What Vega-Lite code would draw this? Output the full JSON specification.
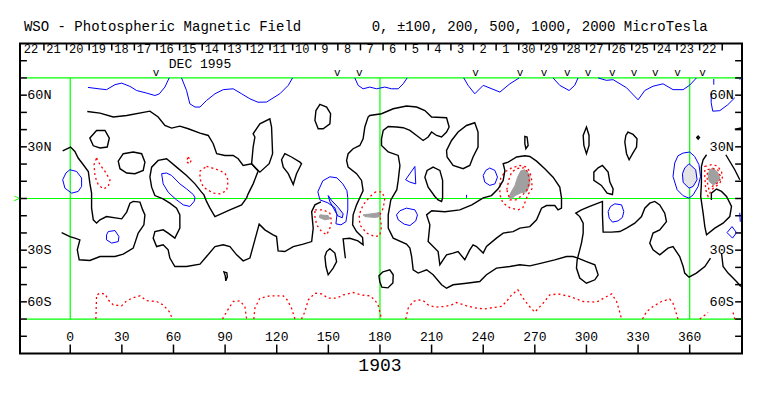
{
"$schema": "https://vega.github.io/schema/vega-lite/v6.json",
"width": 722, "height": 310,
"autosize": {"type": "none"},
"padding": {"left": 20, "top": 43.5, "right": 21, "bottom": 42.5},
"background": "white",
"config": {"view": {"stroke": "black", "strokeWidth": 2}},
"encoding": {
 "x": {"field": "lon", "type": "quantitative", "scale": {"domain": [-29.2, 390.4], "nice": false, "zero": false}, "axis": null},
 "y": {"field": "lat", "type": "quantitative", "scale": {"domain": [-90, 90], "nice": false, "zero": false}, "axis": null}
},
"datasets": {
"green": [
{"lon":-25.3,"lon2":390.4,"lat":70,"lat2":70},
{"lon":-25.3,"lon2":390.4,"lat":0,"lat2":0},
{"lon":-25.3,"lon2":390.4,"lat":-70,"lat2":-70},
{"lon":0,"lon2":0,"lat":-70,"lat2":70},
{"lon":180,"lon2":180,"lat":-70,"lat2":70},
{"lon":360,"lon2":360,"lat":-70,"lat2":70}
],
"ticks": [
{"lon":-29.2,"lon2":-25.2,"lat":80,"lat2":80},{"lon":-29.2,"lon2":-25.2,"lat":70,"lat2":70},{"lon":-29.2,"lon2":-25.2,"lat":60,"lat2":60},{"lon":-29.2,"lon2":-25.2,"lat":50,"lat2":50},{"lon":-29.2,"lon2":-25.2,"lat":40,"lat2":40},{"lon":-29.2,"lon2":-25.2,"lat":30,"lat2":30},{"lon":-29.2,"lon2":-25.2,"lat":20,"lat2":20},{"lon":-29.2,"lon2":-25.2,"lat":10,"lat2":10},{"lon":-29.2,"lon2":-25.2,"lat":0,"lat2":0},{"lon":-29.2,"lon2":-25.2,"lat":-10,"lat2":-10},{"lon":-29.2,"lon2":-25.2,"lat":-20,"lat2":-20},{"lon":-29.2,"lon2":-25.2,"lat":-30,"lat2":-30},{"lon":-29.2,"lon2":-25.2,"lat":-40,"lat2":-40},{"lon":-29.2,"lon2":-25.2,"lat":-50,"lat2":-50},{"lon":-29.2,"lon2":-25.2,"lat":-60,"lat2":-60},{"lon":-29.2,"lon2":-25.2,"lat":-70,"lat2":-70},{"lon":-29.2,"lon2":-25.2,"lat":-80,"lat2":-80},
{"lon":386.4,"lon2":390.4,"lat":80,"lat2":80},{"lon":386.4,"lon2":390.4,"lat":70,"lat2":70},{"lon":386.4,"lon2":390.4,"lat":60,"lat2":60},{"lon":386.4,"lon2":390.4,"lat":50,"lat2":50},{"lon":386.4,"lon2":390.4,"lat":40,"lat2":40},{"lon":386.4,"lon2":390.4,"lat":30,"lat2":30},{"lon":386.4,"lon2":390.4,"lat":20,"lat2":20},{"lon":386.4,"lon2":390.4,"lat":10,"lat2":10},{"lon":386.4,"lon2":390.4,"lat":0,"lat2":0},{"lon":386.4,"lon2":390.4,"lat":-10,"lat2":-10},{"lon":386.4,"lon2":390.4,"lat":-20,"lat2":-20},{"lon":386.4,"lon2":390.4,"lat":-30,"lat2":-30},{"lon":386.4,"lon2":390.4,"lat":-40,"lat2":-40},{"lon":386.4,"lon2":390.4,"lat":-50,"lat2":-50},{"lon":386.4,"lon2":390.4,"lat":-60,"lat2":-60},{"lon":386.4,"lon2":390.4,"lat":-70,"lat2":-70},{"lon":386.4,"lon2":390.4,"lat":-80,"lat2":-80},
{"lon":0,"lon2":0,"lat":-90,"lat2":-84.8},{"lon":30,"lon2":30,"lat":-90,"lat2":-84.8},{"lon":60,"lon2":60,"lat":-90,"lat2":-84.8},{"lon":90,"lon2":90,"lat":-90,"lat2":-84.8},{"lon":120,"lon2":120,"lat":-90,"lat2":-84.8},{"lon":150,"lon2":150,"lat":-90,"lat2":-84.8},{"lon":180,"lon2":180,"lat":-90,"lat2":-84.8},{"lon":210,"lon2":210,"lat":-90,"lat2":-84.8},{"lon":240,"lon2":240,"lat":-90,"lat2":-84.8},{"lon":270,"lon2":270,"lat":-90,"lat2":-84.8},{"lon":300,"lon2":300,"lat":-90,"lat2":-84.8},{"lon":330,"lon2":330,"lat":-90,"lat2":-84.8},{"lon":360,"lon2":360,"lat":-90,"lat2":-84.8},
{"lon":-15.29,"lon2":-15.29,"lat":90,"lat2":86},{"lon":-2.15,"lon2":-2.15,"lat":90,"lat2":86},{"lon":10.99,"lon2":10.99,"lat":90,"lat2":86},{"lon":24.13,"lon2":24.13,"lat":90,"lat2":86},{"lon":37.27,"lon2":37.27,"lat":90,"lat2":86},{"lon":50.41,"lon2":50.41,"lat":90,"lat2":86},{"lon":63.55,"lon2":63.55,"lat":90,"lat2":86},{"lon":76.69,"lon2":76.69,"lat":90,"lat2":86},{"lon":89.83,"lon2":89.83,"lat":90,"lat2":86},{"lon":102.97,"lon2":102.97,"lat":90,"lat2":86},{"lon":116.11,"lon2":116.11,"lat":90,"lat2":86},{"lon":129.25,"lon2":129.25,"lat":90,"lat2":86},{"lon":142.39,"lon2":142.39,"lat":90,"lat2":86},{"lon":155.53,"lon2":155.53,"lat":90,"lat2":86},{"lon":168.67,"lon2":168.67,"lat":90,"lat2":86},{"lon":181.81,"lon2":181.81,"lat":90,"lat2":86},{"lon":194.95,"lon2":194.95,"lat":90,"lat2":86},{"lon":208.09,"lon2":208.09,"lat":90,"lat2":86},{"lon":221.23,"lon2":221.23,"lat":90,"lat2":86},{"lon":234.37,"lon2":234.37,"lat":90,"lat2":86},{"lon":247.51,"lon2":247.51,"lat":90,"lat2":86},{"lon":260.65,"lon2":260.65,"lat":90,"lat2":86},{"lon":273.79,"lon2":273.79,"lat":90,"lat2":86},{"lon":286.93,"lon2":286.93,"lat":90,"lat2":86},{"lon":300.07,"lon2":300.07,"lat":90,"lat2":86},{"lon":313.21,"lon2":313.21,"lat":90,"lat2":86},{"lon":326.35,"lon2":326.35,"lat":90,"lat2":86},{"lon":339.49,"lon2":339.49,"lat":90,"lat2":86},{"lon":352.63,"lon2":352.63,"lat":90,"lat2":86},{"lon":365.77,"lon2":365.77,"lat":90,"lat2":86},{"lon":378.91,"lon2":378.91,"lat":90,"lat2":86}
],
"grayFill": [
{"g":"G1","o":0,"lon":145.1,"lat":-9.5},{"g":"G1","o":1,"lon":149.9,"lat":-9.9},{"g":"G1","o":2,"lon":150.9,"lat":-11.8},{"g":"G1","o":3,"lon":148.0,"lat":-12.4},{"g":"G1","o":4,"lon":144.7,"lat":-11.0},
{"g":"G2","o":0,"lon":170.2,"lat":-9.5},{"g":"G2","o":1,"lon":178.0,"lat":-8.5},{"g":"G2","o":2,"lon":179.9,"lat":-7.9},{"g":"G2","o":3,"lon":180.3,"lat":-10.5},{"g":"G2","o":4,"lon":177.0,"lat":-11.0},{"g":"G2","o":5,"lon":171.2,"lat":-10.5},
{"g":"G3","o":0,"lon":264.2,"lat":16.7},{"g":"G3","o":1,"lon":267.1,"lat":13.8},{"g":"G3","o":2,"lon":267.1,"lat":8.0},{"g":"G3","o":3,"lon":265.3,"lat":3.9},{"g":"G3","o":4,"lon":261.9,"lat":3.3},{"g":"G3","o":5,"lon":258.4,"lat":1.6},{"g":"G3","o":6,"lon":256.6,"lat":-0.2},{"g":"G3","o":7,"lon":254.9,"lat":0.4},{"g":"G3","o":8,"lon":256.0,"lat":3.3},{"g":"G3","o":9,"lon":258.4,"lat":7.4},{"g":"G3","o":10,"lon":260.1,"lat":12.6},{"g":"G3","o":11,"lon":261.9,"lat":16.1},
{"g":"G4","o":0,"lon":373.6,"lat":17.7},{"g":"G4","o":1,"lon":376.5,"lat":14.8},{"g":"G4","o":2,"lon":377.5,"lat":11.9},{"g":"G4","o":3,"lon":375.9,"lat":8.9},{"g":"G4","o":4,"lon":373.6,"lat":8.0},{"g":"G4","o":5,"lon":371.3,"lat":9.9},{"g":"G4","o":6,"lon":370.7,"lat":13.8},{"g":"G4","o":7,"lon":371.7,"lat":16.7}
],
"blueFilled": [
{"g":"F1","o":0,"lon":359.6,"lat":20.2},{"g":"F1","o":1,"lon":363.5,"lat":16.7},{"g":"F1","o":2,"lon":364.3,"lat":10.9},{"g":"F1","o":3,"lon":362.0,"lat":7.0},{"g":"F1","o":4,"lon":359.6,"lat":6.0},{"g":"F1","o":5,"lon":356.2,"lat":9.3},{"g":"F1","o":6,"lon":355.8,"lat":14.4},{"g":"F1","o":7,"lon":357.1,"lat":17.7},
{"g":"F2","o":0,"lon":149.9,"lat":1.7},{"g":"F2","o":1,"lon":152.0,"lat":-1.3},{"g":"F2","o":2,"lon":155.7,"lat":-5.1},{"g":"F2","o":3,"lon":158.6,"lat":-8.9},{"g":"F2","o":4,"lon":158.1,"lat":-11.2},{"g":"F2","o":5,"lon":155.5,"lat":-10.1},{"g":"F2","o":6,"lon":153.2,"lat":-6.0},{"g":"F2","o":7,"lon":150.9,"lat":-1.9}
],
"blueOpen": [
{"g":"BA","o":0,"lon":10.3,"lat":64.5},{"g":"BA","o":1,"lon":17.3,"lat":63.6},{"g":"BA","o":2,"lon":21.1,"lat":63.2},{"g":"BA","o":3,"lon":26.0,"lat":66.1},{"g":"BA","o":4,"lon":29.9,"lat":67.0},{"g":"BA","o":5,"lon":34.7,"lat":65.1},{"g":"BA","o":6,"lon":38.6,"lat":62.7},{"g":"BA","o":7,"lon":44.4,"lat":61.2},{"g":"BA","o":8,"lon":49.2,"lat":59.8},{"g":"BA","o":9,"lon":51.7,"lat":60.7},{"g":"BA","o":10,"lon":55.0,"lat":64.7},{"g":"BA","o":11,"lon":57.5,"lat":70},
{"g":"BB","o":0,"lon":64.7,"lat":70},{"g":"BB","o":1,"lon":67.6,"lat":62.7},{"g":"BB","o":2,"lon":69.5,"lat":55.0},{"g":"BB","o":3,"lon":72.5,"lat":53.1},{"g":"BB","o":4,"lon":75.4,"lat":53.1},{"g":"BB","o":5,"lon":79.2,"lat":56.9},{"g":"BB","o":6,"lon":84.1,"lat":60.8},{"g":"BB","o":7,"lon":88.9,"lat":63.2},{"g":"BB","o":8,"lon":94.7,"lat":63.7},{"g":"BB","o":9,"lon":99.6,"lat":60.8},{"g":"BB","o":10,"lon":104.4,"lat":57.9},{"g":"BB","o":11,"lon":109.1,"lat":55.9},{"g":"BB","o":12,"lon":114.1,"lat":56.0},{"g":"BB","o":13,"lon":121.8,"lat":60.8},{"g":"BB","o":14,"lon":126.7,"lat":65.7},{"g":"BB","o":15,"lon":129.2,"lat":70},
{"g":"BC","o":0,"lon":165.4,"lat":70},{"g":"BC","o":1,"lon":167.3,"lat":65.7},{"g":"BC","o":2,"lon":170.2,"lat":63.7},{"g":"BC","o":3,"lon":174.1,"lat":64.7},{"g":"BC","o":4,"lon":178.0,"lat":63.7},{"g":"BC","o":5,"lon":182.8,"lat":64.7},{"g":"BC","o":6,"lon":186.7,"lat":63.7},{"g":"BC","o":7,"lon":190.6,"lat":63.7},{"g":"BC","o":8,"lon":193.5,"lat":66.6},{"g":"BC","o":9,"lon":195.8,"lat":70},
{"g":"BD","o":0,"lon":228.7,"lat":70},{"g":"BD","o":1,"lon":231.2,"lat":65.7},{"g":"BD","o":2,"lon":235.1,"lat":60.8},{"g":"BD","o":3,"lon":240.0,"lat":65.7},{"g":"BD","o":4,"lon":249.7,"lat":61.8},{"g":"BD","o":5,"lon":255.5,"lat":66.6},{"g":"BD","o":6,"lon":260.9,"lat":70},
{"g":"BE","o":0,"lon":280.6,"lat":70},{"g":"BE","o":1,"lon":284.5,"lat":65.7},{"g":"BE","o":2,"lon":289.9,"lat":62.7},{"g":"BE","o":3,"lon":293.2,"lat":65.7},{"g":"BE","o":4,"lon":295.1,"lat":70},
{"g":"BF","o":0,"lon":306.8,"lat":70},{"g":"BF","o":1,"lon":311.6,"lat":68.6},{"g":"BF","o":2,"lon":315.5,"lat":69.0},{"g":"BF","o":3,"lon":323.3,"lat":64.3},{"g":"BF","o":4,"lon":330.0,"lat":57.3},{"g":"BF","o":5,"lon":333.9,"lat":62.7},{"g":"BF","o":6,"lon":338.7,"lat":65.2},{"g":"BF","o":7,"lon":344.5,"lat":66.6},{"g":"BF","o":8,"lon":350.3,"lat":63.2},{"g":"BF","o":9,"lon":356.2,"lat":63.2},{"g":"BF","o":10,"lon":360.0,"lat":65.8},{"g":"BF","o":11,"lon":363.9,"lat":70},
{"g":"BG1","o":0,"lon":374.0,"lat":69.4},{"g":"BG1","o":1,"lon":374.0,"lat":66.1},
{"g":"BG2","o":0,"lon":372.5,"lat":61.4},{"g":"BG2","o":1,"lon":372.5,"lat":55.6},{"g":"BG2","o":2,"lon":373.4,"lat":50.7},{"g":"BG2","o":3,"lon":377.5,"lat":51.0},{"g":"BG2","o":4,"lon":382.1,"lat":54.4},{"g":"BG2","o":5,"lon":386.2,"lat":58.5},
{"g":"BG3","o":0,"lon":389.1,"lat":69.0},{"g":"BG3","o":1,"lon":389.7,"lat":70},
{"g":"BX","o":0,"lon":230.3,"lat":2.1},{"g":"BX","o":1,"lon":230.3,"lat":0.4},
{"g":"BY","o":0,"lon":389.1,"lat":-8.3},{"g":"BY","o":1,"lon":389.4,"lat":-13.5}
],
"blueClosed": [
{"g":"L1","o":0,"lon":-0.2,"lat":16.7},{"g":"L1","o":1,"lon":3.7,"lat":15.7},{"g":"L1","o":2,"lon":6.6,"lat":11.9},{"g":"L1","o":3,"lon":6.6,"lat":7.0},{"g":"L1","o":4,"lon":4.6,"lat":4.1},{"g":"L1","o":5,"lon":0.8,"lat":3.1},{"g":"L1","o":6,"lon":-3.1,"lat":6.0},{"g":"L1","o":7,"lon":-4.4,"lat":10.9},{"g":"L1","o":8,"lon":-2.5,"lat":14.8},
{"g":"L2","o":0,"lon":22.1,"lat":-19.2},{"g":"L2","o":1,"lon":26.0,"lat":-18.6},{"g":"L2","o":2,"lon":28.3,"lat":-22.1},{"g":"L2","o":3,"lon":27.9,"lat":-25.0},{"g":"L2","o":4,"lon":24.1,"lat":-25.9},{"g":"L2","o":5,"lon":21.1,"lat":-24.0},{"g":"L2","o":6,"lon":21.1,"lat":-21.1},
{"g":"L3","o":0,"lon":53.1,"lat":14.4},{"g":"L3","o":1,"lon":56.0,"lat":14.8},{"g":"L3","o":2,"lon":58.9,"lat":13.4},{"g":"L3","o":3,"lon":63.7,"lat":8.5},{"g":"L3","o":4,"lon":67.6,"lat":5.6},{"g":"L3","o":5,"lon":71.5,"lat":2.3},{"g":"L3","o":6,"lon":72.5,"lat":0.4},{"g":"L3","o":7,"lon":72.0,"lat":-1.7},{"g":"L3","o":8,"lon":69.5,"lat":-4.6},{"g":"L3","o":9,"lon":65.7,"lat":-3.7},{"g":"L3","o":10,"lon":61.8,"lat":-0.8},{"g":"L3","o":11,"lon":59.1,"lat":1.6},{"g":"L3","o":12,"lon":56.9,"lat":3.7},{"g":"L3","o":13,"lon":54.0,"lat":8.5},
{"g":"L4","o":0,"lon":143.9,"lat":3.9},{"g":"L4","o":1,"lon":146.8,"lat":10.3},{"g":"L4","o":2,"lon":150.9,"lat":12.6},{"g":"L4","o":3,"lon":155.0,"lat":12.0},{"g":"L4","o":4,"lon":158.4,"lat":8.5},{"g":"L4","o":5,"lon":160.8,"lat":4.5},{"g":"L4","o":6,"lon":161.3,"lat":0.4},{"g":"L4","o":7,"lon":161.3,"lat":-6.6},{"g":"L4","o":8,"lon":160.2,"lat":-13.5},{"g":"L4","o":9,"lon":157.3,"lat":-15.3},{"g":"L4","o":10,"lon":154.4,"lat":-14.7},{"g":"L4","o":11,"lon":155.0,"lat":-9.5},{"g":"L4","o":12,"lon":153.8,"lat":-5.4},{"g":"L4","o":13,"lon":149.7,"lat":-2.5},{"g":"L4","o":14,"lon":145.1,"lat":-0.8},
{"g":"L5","o":0,"lon":200.3,"lat":18.6},{"g":"L5","o":1,"lon":200.8,"lat":8.5},{"g":"L5","o":2,"lon":197.4,"lat":9.5},{"g":"L5","o":3,"lon":194.9,"lat":10.9},{"g":"L5","o":4,"lon":198.4,"lat":15.9},
{"g":"L6","o":0,"lon":195.4,"lat":-5.6},{"g":"L6","o":1,"lon":200.3,"lat":-6.6},{"g":"L6","o":2,"lon":201.8,"lat":-9.5},{"g":"L6","o":3,"lon":200.8,"lat":-13.0},{"g":"L6","o":4,"lon":197.4,"lat":-15.7},{"g":"L6","o":5,"lon":194.1,"lat":-14.9},{"g":"L6","o":6,"lon":190.6,"lat":-12.4},{"g":"L6","o":7,"lon":189.6,"lat":-9.5},{"g":"L6","o":8,"lon":191.6,"lat":-7.1},
{"g":"L7","o":0,"lon":243.8,"lat":17.7},{"g":"L7","o":1,"lon":246.8,"lat":16.3},{"g":"L7","o":2,"lon":248.3,"lat":12.4},{"g":"L7","o":3,"lon":246.8,"lat":8.5},{"g":"L7","o":4,"lon":243.8,"lat":7.6},{"g":"L7","o":5,"lon":240.9,"lat":9.5},{"g":"L7","o":6,"lon":240.0,"lat":13.4},{"g":"L7","o":7,"lon":241.5,"lat":16.3},
{"g":"L9","o":0,"lon":316.5,"lat":-3.1},{"g":"L9","o":1,"lon":320.4,"lat":-3.7},{"g":"L9","o":2,"lon":321.7,"lat":-7.6},{"g":"L9","o":3,"lon":320.9,"lat":-11.0},{"g":"L9","o":4,"lon":318.4,"lat":-13.0},{"g":"L9","o":5,"lon":315.1,"lat":-13.7},{"g":"L9","o":6,"lon":313.2,"lat":-11.4},{"g":"L9","o":7,"lon":312.6,"lat":-7.6},{"g":"L9","o":8,"lon":314.0,"lat":-4.6},
{"g":"L10","o":0,"lon":356.2,"lat":26.4},{"g":"L10","o":1,"lon":360.0,"lat":27.0},{"g":"L10","o":2,"lon":362.9,"lat":24.4},{"g":"L10","o":3,"lon":365.4,"lat":19.6},{"g":"L10","o":4,"lon":366.3,"lat":12.8},{"g":"L10","o":5,"lon":364.9,"lat":7.0},{"g":"L10","o":6,"lon":362.0,"lat":2.1},{"g":"L10","o":7,"lon":359.6,"lat":0.2},{"g":"L10","o":8,"lon":356.2,"lat":1.6},{"g":"L10","o":9,"lon":352.7,"lat":5.1},{"g":"L10","o":10,"lon":350.3,"lat":12.8},{"g":"L10","o":11,"lon":351.3,"lat":20.6},{"g":"L10","o":12,"lon":353.2,"lat":24.8},
{"g":"L11","o":0,"lon":384.6,"lat":-16.3},{"g":"L11","o":1,"lon":387.2,"lat":-19.8},{"g":"L11","o":2,"lon":384.9,"lat":-23.0},{"g":"L11","o":3,"lon":381.7,"lat":-19.8}
],
"redOpen": [
{"g":"R1","o":0,"lon":14.9,"lat":-70},{"g":"R1","o":1,"lon":15.3,"lat":-56.0},{"g":"R1","o":2,"lon":17.3,"lat":-55.0},{"g":"R1","o":3,"lon":20.2,"lat":-55.4},{"g":"R1","o":4,"lon":22.1,"lat":-58.9},{"g":"R1","o":5,"lon":25.0,"lat":-61.8},{"g":"R1","o":6,"lon":29.9,"lat":-62.3},{"g":"R1","o":7,"lon":32.4,"lat":-59.8},{"g":"R1","o":8,"lon":35.7,"lat":-57.9},{"g":"R1","o":9,"lon":40.5,"lat":-56.5},{"g":"R1","o":10,"lon":44.4,"lat":-59.3},{"g":"R1","o":11,"lon":50.2,"lat":-59.8},{"g":"R1","o":12,"lon":54.0,"lat":-61.8},{"g":"R1","o":13,"lon":57.5,"lat":-65.7},{"g":"R1","o":14,"lon":59.5,"lat":-70},
{"g":"R2","o":0,"lon":88.5,"lat":-70},{"g":"R2","o":1,"lon":90.9,"lat":-65.7},{"g":"R2","o":2,"lon":94.7,"lat":-59.8},{"g":"R2","o":3,"lon":98.6,"lat":-59.4},{"g":"R2","o":4,"lon":101.5,"lat":-62.7},{"g":"R2","o":5,"lon":102.5,"lat":-70},
{"g":"R3","o":0,"lon":106.7,"lat":-70},{"g":"R3","o":1,"lon":107.3,"lat":-63.7},{"g":"R3","o":2,"lon":110.2,"lat":-57.9},{"g":"R3","o":3,"lon":116.0,"lat":-56.5},{"g":"R3","o":4,"lon":123.8,"lat":-56.5},{"g":"R3","o":5,"lon":126.1,"lat":-58.9},{"g":"R3","o":6,"lon":128.6,"lat":-63.7},{"g":"R3","o":7,"lon":130.6,"lat":-70},
{"g":"R4","o":0,"lon":134.4,"lat":-70},{"g":"R4","o":1,"lon":136.4,"lat":-65.7},{"g":"R4","o":2,"lon":138.3,"lat":-58.9},{"g":"R4","o":3,"lon":142.2,"lat":-55.0},{"g":"R4","o":4,"lon":146.1,"lat":-55.4},{"g":"R4","o":5,"lon":149.9,"lat":-57.9},{"g":"R4","o":6,"lon":154.8,"lat":-57.9},{"g":"R4","o":7,"lon":158.6,"lat":-56.0},{"g":"R4","o":8,"lon":164.4,"lat":-54.6},{"g":"R4","o":9,"lon":169.3,"lat":-56.0},{"g":"R4","o":10,"lon":174.1,"lat":-56.5},{"g":"R4","o":11,"lon":177.0,"lat":-58.9},{"g":"R4","o":12,"lon":178.9,"lat":-61.8},{"g":"R4","o":13,"lon":179.9,"lat":-65.7},{"g":"R4","o":14,"lon":180.9,"lat":-70},
{"g":"R5","o":0,"lon":195.0,"lat":-70},{"g":"R5","o":1,"lon":196.4,"lat":-63.7},{"g":"R5","o":2,"lon":199.3,"lat":-59.8},{"g":"R5","o":3,"lon":202.2,"lat":-58.9},{"g":"R5","o":4,"lon":205.1,"lat":-59.3},{"g":"R5","o":5,"lon":208.0,"lat":-61.8},{"g":"R5","o":6,"lon":211.9,"lat":-63.1},{"g":"R5","o":7,"lon":217.7,"lat":-62.7},{"g":"R5","o":8,"lon":221.6,"lat":-61.8},{"g":"R5","o":9,"lon":224.5,"lat":-60.4},{"g":"R5","o":10,"lon":230.3,"lat":-62.3},{"g":"R5","o":11,"lon":236.1,"lat":-63.7},{"g":"R5","o":12,"lon":240.9,"lat":-64.1},{"g":"R5","o":13,"lon":245.8,"lat":-63.3},{"g":"R5","o":14,"lon":250.6,"lat":-62.7},{"g":"R5","o":15,"lon":253.5,"lat":-59.8},{"g":"R5","o":16,"lon":256.5,"lat":-56.0},{"g":"R5","o":17,"lon":260.1,"lat":-53.0},{"g":"R5","o":18,"lon":263.2,"lat":-57.9},{"g":"R5","o":19,"lon":266.1,"lat":-61.8},{"g":"R5","o":20,"lon":270.0,"lat":-66.0},{"g":"R5","o":21,"lon":274.8,"lat":-60.8},{"g":"R5","o":22,"lon":278.7,"lat":-56.0},{"g":"R5","o":23,"lon":283.5,"lat":-55.4},{"g":"R5","o":24,"lon":290.3,"lat":-56.9},{"g":"R5","o":25,"lon":298.1,"lat":-59.8},{"g":"R5","o":26,"lon":305.8,"lat":-60.2},{"g":"R5","o":27,"lon":312.6,"lat":-56.5},{"g":"R5","o":28,"lon":314.7,"lat":-55.4},{"g":"R5","o":29,"lon":317.5,"lat":-59.8},{"g":"R5","o":30,"lon":319.0,"lat":-64.7},{"g":"R5","o":31,"lon":320.4,"lat":-70},
{"g":"R6","o":0,"lon":332.6,"lat":-70},{"g":"R6","o":1,"lon":334.9,"lat":-65.7},{"g":"R6","o":2,"lon":338.7,"lat":-62.7},{"g":"R6","o":3,"lon":343.6,"lat":-59.8},{"g":"R6","o":4,"lon":348.4,"lat":-58.4},{"g":"R6","o":5,"lon":350.3,"lat":-60.8},{"g":"R6","o":6,"lon":351.9,"lat":-65.7},{"g":"R6","o":7,"lon":353.2,"lat":-70},
{"g":"R7a","o":0,"lon":365.9,"lat":-70},{"g":"R7a","o":1,"lon":370.7,"lat":-66.2},
{"g":"R7b","o":0,"lon":385.2,"lat":-66.2},{"g":"R7b","o":1,"lon":386.2,"lat":-70}
],
"redClosed": [
{"g":"Q1","o":0,"lon":15.3,"lat":23.5},{"g":"Q1","o":1,"lon":17.3,"lat":19.6},{"g":"Q1","o":2,"lon":20.2,"lat":15.7},{"g":"Q1","o":3,"lon":23.1,"lat":10.9},{"g":"Q1","o":4,"lon":22.1,"lat":7.0},{"g":"Q1","o":5,"lon":19.2,"lat":5.5},{"g":"Q1","o":6,"lon":16.3,"lat":8.0},{"g":"Q1","o":7,"lon":14.4,"lat":12.8},{"g":"Q1","o":8,"lon":13.8,"lat":19.6},
{"g":"Q2","o":0,"lon":79.2,"lat":18.6},{"g":"Q2","o":1,"lon":84.1,"lat":17.3},{"g":"Q2","o":2,"lon":89.9,"lat":14.8},{"g":"Q2","o":3,"lon":91.8,"lat":10.5},{"g":"Q2","o":4,"lon":90.9,"lat":4.6},{"g":"Q2","o":5,"lon":87.0,"lat":2.7},{"g":"Q2","o":6,"lon":83.1,"lat":3.1},{"g":"Q2","o":7,"lon":77.3,"lat":6.6},{"g":"Q2","o":8,"lon":75.4,"lat":11.4},{"g":"Q2","o":9,"lon":75.4,"lat":15.9},
{"g":"Q2b","o":0,"lon":68.4,"lat":23.9},{"g":"Q2b","o":1,"lon":70.4,"lat":22.5},{"g":"Q2b","o":2,"lon":69.5,"lat":20.1},{"g":"Q2b","o":3,"lon":67.5,"lat":21.3},
{"g":"Q4","o":0,"lon":142.2,"lat":-6.6},{"g":"Q4","o":1,"lon":147.0,"lat":-6.6},{"g":"Q4","o":2,"lon":150.9,"lat":-8.5},{"g":"Q4","o":3,"lon":151.9,"lat":-13.4},{"g":"Q4","o":4,"lon":150.9,"lat":-17.2},{"g":"Q4","o":5,"lon":149.0,"lat":-21.1},{"g":"Q4","o":6,"lon":146.1,"lat":-19.2},{"g":"Q4","o":7,"lon":143.2,"lat":-15.3},{"g":"Q4","o":8,"lon":142.2,"lat":-10.5},
{"g":"Q5","o":0,"lon":177.6,"lat":3.9},{"g":"Q5","o":1,"lon":174.1,"lat":1.0},{"g":"Q5","o":2,"lon":170.2,"lat":-3.7},{"g":"Q5","o":3,"lon":167.9,"lat":-9.5},{"g":"Q5","o":4,"lon":168.3,"lat":-15.3},{"g":"Q5","o":5,"lon":172.2,"lat":-20.1},{"g":"Q5","o":6,"lon":177.0,"lat":-22.1},{"g":"Q5","o":7,"lon":179.9,"lat":-21.5},{"g":"Q5","o":8,"lon":180.9,"lat":-16.3},{"g":"Q5","o":9,"lon":179.9,"lat":-9.5},{"g":"Q5","o":10,"lon":181.9,"lat":-5.6},{"g":"Q5","o":11,"lon":182.8,"lat":0.2},{"g":"Q5","o":12,"lon":181.1,"lat":3.9},
{"g":"Q6","o":0,"lon":249.7,"lat":8.0},{"g":"Q6","o":1,"lon":250.2,"lat":12.0},{"g":"Q6","o":2,"lon":252.7,"lat":15.5},{"g":"Q6","o":3,"lon":256.6,"lat":17.8},{"g":"Q6","o":4,"lon":261.3,"lat":19.2},{"g":"Q6","o":5,"lon":265.4,"lat":18.2},{"g":"Q6","o":6,"lon":267.1,"lat":15.5},{"g":"Q6","o":7,"lon":268.3,"lat":10.3},{"g":"Q6","o":8,"lon":268.3,"lat":5.6},{"g":"Q6","o":9,"lon":265.9,"lat":2.1},{"g":"Q6","o":10,"lon":264.2,"lat":-2.5},{"g":"Q6","o":11,"lon":263.0,"lat":-5.4},{"g":"Q6","o":12,"lon":260.1,"lat":-6.6},{"g":"Q6","o":13,"lon":255.5,"lat":-5.4},{"g":"Q6","o":14,"lon":251.4,"lat":-2.5},{"g":"Q6","o":15,"lon":249.7,"lat":2.1},
{"g":"Q6i","o":0,"lon":253.7,"lat":5.1},{"g":"Q6i","o":1,"lon":254.9,"lat":10.9},{"g":"Q6i","o":2,"lon":256.6,"lat":15.5},{"g":"Q6i","o":3,"lon":260.1,"lat":17.5},{"g":"Q6i","o":4,"lon":263.6,"lat":17.8},{"g":"Q6i","o":5,"lon":265.9,"lat":15.5},{"g":"Q6i","o":6,"lon":266.8,"lat":10.3},{"g":"Q6i","o":7,"lon":265.9,"lat":5.6},{"g":"Q6i","o":8,"lon":263.0,"lat":2.1},{"g":"Q6i","o":9,"lon":259.0,"lat":-0.8},{"g":"Q6i","o":10,"lon":255.5,"lat":-0.8},
{"g":"Q7","o":0,"lon":368.8,"lat":18.6},{"g":"Q7","o":1,"lon":372.7,"lat":19.6},{"g":"Q7","o":2,"lon":375.9,"lat":19.0},{"g":"Q7","o":3,"lon":378.5,"lat":15.7},{"g":"Q7","o":4,"lon":379.0,"lat":11.9},{"g":"Q7","o":5,"lon":377.5,"lat":8.9},{"g":"Q7","o":6,"lon":375.2,"lat":7.0},{"g":"Q7","o":7,"lon":372.7,"lat":5.1},{"g":"Q7","o":8,"lon":370.7,"lat":1.2},{"g":"Q7","o":9,"lon":369.3,"lat":5.1},{"g":"Q7","o":10,"lon":368.8,"lat":12.8},
{"g":"Q7i","o":0,"lon":370.5,"lat":16.7},{"g":"Q7i","o":1,"lon":373.4,"lat":17.5},{"g":"Q7i","o":2,"lon":376.3,"lat":16.7},{"g":"Q7i","o":3,"lon":377.7,"lat":13.2},{"g":"Q7i","o":4,"lon":377.5,"lat":10.0},{"g":"Q7i","o":5,"lon":375.2,"lat":8.3},{"g":"Q7i","o":6,"lon":372.8,"lat":6.8},{"g":"Q7i","o":7,"lon":371.1,"lat":5.6},{"g":"Q7i","o":8,"lon":370.2,"lat":9.7},{"g":"Q7i","o":9,"lon":370.2,"lat":13.8}
],
"blackOpen": [
{"g":"B1","o":0,"lon":-4.4,"lat":27.7},{"g":"B1","o":1,"lon":0.2,"lat":29.9},{"g":"B1","o":2,"lon":2.7,"lat":27.3},{"g":"B1","o":3,"lon":4.6,"lat":23.5},{"g":"B1","o":4,"lon":7.6,"lat":19.6},{"g":"B1","o":5,"lon":10.5,"lat":15.7},{"g":"B1","o":6,"lon":11.4,"lat":8.9},{"g":"B1","o":7,"lon":12.4,"lat":3.1},{"g":"B1","o":8,"lon":12.4,"lat":-5.6},{"g":"B1","o":9,"lon":13.4,"lat":-12.4},{"g":"B1","o":10,"lon":15.3,"lat":-14.3},{"g":"B1","o":11,"lon":17.3,"lat":-12.4},{"g":"B1","o":12,"lon":21.1,"lat":-10.5},{"g":"B1","o":13,"lon":29.9,"lat":-11.8},{"g":"B1","o":14,"lon":32.8,"lat":-7.9},{"g":"B1","o":15,"lon":34.7,"lat":-2.7},{"g":"B1","o":16,"lon":36.6,"lat":-1.7},{"g":"B1","o":17,"lon":40.5,"lat":-2.1},{"g":"B1","o":18,"lon":42.1,"lat":-6.6},{"g":"B1","o":19,"lon":43.4,"lat":-9.5},{"g":"B1","o":20,"lon":42.8,"lat":-15.3},{"g":"B1","o":21,"lon":39.5,"lat":-20.1},{"g":"B1","o":22,"lon":36.6,"lat":-28.8},{"g":"B1","o":23,"lon":30.8,"lat":-32.3},{"g":"B1","o":24,"lon":26.0,"lat":-33.7},{"g":"B1","o":25,"lon":17.3,"lat":-33.7},{"g":"B1","o":26,"lon":11.4,"lat":-36.0},{"g":"B1","o":27,"lon":5.2,"lat":-35.6},{"g":"B1","o":28,"lon":4.1,"lat":-29.8},{"g":"B1","o":29,"lon":5.6,"lat":-24.0},{"g":"B1","o":30,"lon":2.7,"lat":-23.0},{"g":"B1","o":31,"lon":-0.2,"lat":-22.1},{"g":"B1","o":32,"lon":-5.0,"lat":-19.8},
{"g":"B4","o":0,"lon":9.9,"lat":50.5},{"g":"B4","o":1,"lon":17.3,"lat":49.6},{"g":"B4","o":2,"lon":25.0,"lat":47.3},{"g":"B4","o":3,"lon":32.8,"lat":48.2},{"g":"B4","o":4,"lon":46.3,"lat":50.7},{"g":"B4","o":5,"lon":51.1,"lat":47.3},{"g":"B4","o":6,"lon":55.0,"lat":42.4},{"g":"B4","o":7,"lon":58.9,"lat":40.9},{"g":"B4","o":8,"lon":63.7,"lat":42.0},{"g":"B4","o":9,"lon":68.6,"lat":40.5},{"g":"B4","o":10,"lon":75.4,"lat":38.0},{"g":"B4","o":11,"lon":80.2,"lat":36.6},{"g":"B4","o":12,"lon":83.1,"lat":31.8},{"g":"B4","o":13,"lon":85.1,"lat":26.0},{"g":"B4","o":14,"lon":89.9,"lat":25.0},{"g":"B4","o":15,"lon":94.7,"lat":25.0},{"g":"B4","o":16,"lon":97.6,"lat":23.1},{"g":"B4","o":17,"lon":100.5,"lat":19.2},{"g":"B4","o":18,"lon":105.4,"lat":20.1},{"g":"B4","o":19,"lon":109.2,"lat":15.9},{"g":"B4","o":20,"lon":106.3,"lat":8.5},{"g":"B4","o":21,"lon":103.4,"lat":2.7},{"g":"B4","o":22,"lon":102.5,"lat":0.4},{"g":"B4","o":23,"lon":99.6,"lat":-3.7},{"g":"B4","o":24,"lon":92.8,"lat":-6.6},{"g":"B4","o":25,"lon":84.1,"lat":-10.5},{"g":"B4","o":26,"lon":81.2,"lat":-5.6},{"g":"B4","o":27,"lon":79.2,"lat":-1.7},{"g":"B4","o":28,"lon":77.7,"lat":2.1},{"g":"B4","o":29,"lon":76.3,"lat":3.7},{"g":"B4","o":30,"lon":72.5,"lat":8.5},{"g":"B4","o":31,"lon":67.6,"lat":13.4},{"g":"B4","o":32,"lon":61.8,"lat":18.2},{"g":"B4","o":33,"lon":56.0,"lat":23.1},{"g":"B4","o":34,"lon":51.1,"lat":22.1},{"g":"B4","o":35,"lon":47.3,"lat":18.2},{"g":"B4","o":36,"lon":46.3,"lat":12.6},{"g":"B4","o":37,"lon":47.3,"lat":6.6},{"g":"B4","o":38,"lon":49.2,"lat":1.7},{"g":"B4","o":39,"lon":53.9,"lat":-0.2},{"g":"B4","o":40,"lon":57.9,"lat":-2.7},{"g":"B4","o":41,"lon":61.8,"lat":-5.6},{"g":"B4","o":42,"lon":63.7,"lat":-9.5},{"g":"B4","o":43,"lon":63.7,"lat":-17.2},{"g":"B4","o":44,"lon":60.8,"lat":-23.0},{"g":"B4","o":45,"lon":56.9,"lat":-20.1},{"g":"B4","o":46,"lon":54.0,"lat":-18.2},{"g":"B4","o":47,"lon":49.2,"lat":-19.2},{"g":"B4","o":48,"lon":48.2,"lat":-23.0},{"g":"B4","o":49,"lon":50.2,"lat":-27.9},{"g":"B4","o":50,"lon":54.0,"lat":-26.9},{"g":"B4","o":51,"lon":56.9,"lat":-29.8},{"g":"B4","o":52,"lon":57.9,"lat":-34.6},{"g":"B4","o":53,"lon":60.8,"lat":-39.5},{"g":"B4","o":54,"lon":67.6,"lat":-39.5},{"g":"B4","o":55,"lon":75.4,"lat":-38.1},{"g":"B4","o":56,"lon":79.2,"lat":-33.7},{"g":"B4","o":57,"lon":84.1,"lat":-27.9},{"g":"B4","o":58,"lon":88.9,"lat":-26.9},{"g":"B4","o":59,"lon":92.8,"lat":-27.9},{"g":"B4","o":60,"lon":96.7,"lat":-32.7},{"g":"B4","o":61,"lon":100.5,"lat":-36.2},{"g":"B4","o":62,"lon":104.4,"lat":-34.6},{"g":"B4","o":63,"lon":107.3,"lat":-24.0},{"g":"B4","o":64,"lon":109.8,"lat":-14.9},{"g":"B4","o":65,"lon":113.1,"lat":-18.2},{"g":"B4","o":66,"lon":117.9,"lat":-21.1},{"g":"B4","o":67,"lon":119.9,"lat":-22.1},{"g":"B4","o":68,"lon":120.8,"lat":-30.4},{"g":"B4","o":69,"lon":124.7,"lat":-30.8},{"g":"B4","o":70,"lon":129.6,"lat":-27.9},{"g":"B4","o":71,"lon":135.4,"lat":-26.5},{"g":"B4","o":72,"lon":140.3,"lat":-25.0},{"g":"B4","o":73,"lon":141.2,"lat":-17.2},{"g":"B4","o":74,"lon":140.3,"lat":-7.6},{"g":"B4","o":75,"lon":142.2,"lat":-3.7},{"g":"B4","o":76,"lon":145.7,"lat":-1.9},
{"g":"B7","o":0,"lon":159.9,"lat":-34.7},{"g":"B7","o":1,"lon":159.3,"lat":-29.8},{"g":"B7","o":2,"lon":158.6,"lat":-23.4},{"g":"B7","o":3,"lon":162.5,"lat":-23.1},{"g":"B7","o":4,"lon":167.2,"lat":-24.6},{"g":"B7","o":5,"lon":170.2,"lat":-26.9},{"g":"B7","o":6,"lon":169.9,"lat":-22.7},{"g":"B7","o":7,"lon":166.4,"lat":-19.2},{"g":"B7","o":8,"lon":164.1,"lat":-15.3},{"g":"B7","o":9,"lon":164.4,"lat":-9.5},{"g":"B7","o":10,"lon":166.4,"lat":-3.7},{"g":"B7","o":11,"lon":168.3,"lat":0.4},{"g":"B7","o":12,"lon":170.2,"lat":4.6},{"g":"B7","o":13,"lon":169.3,"lat":10.5},{"g":"B7","o":14,"lon":166.4,"lat":14.4},{"g":"B7","o":15,"lon":161.5,"lat":18.2},{"g":"B7","o":16,"lon":160.6,"lat":22.1},{"g":"B7","o":17,"lon":161.5,"lat":26.0},{"g":"B7","o":18,"lon":164.4,"lat":28.9},{"g":"B7","o":19,"lon":168.3,"lat":30.8},{"g":"B7","o":20,"lon":170.2,"lat":34.7},{"g":"B7","o":21,"lon":171.2,"lat":41.5},{"g":"B7","o":22,"lon":173.1,"lat":47.3},{"g":"B7","o":23,"lon":174.1,"lat":48.2},{"g":"B7","o":24,"lon":180.9,"lat":49.2},{"g":"B7","o":25,"lon":187.7,"lat":52.1},{"g":"B7","o":26,"lon":195.4,"lat":53.7},{"g":"B7","o":27,"lon":201.3,"lat":53.1},{"g":"B7","o":28,"lon":206.1,"lat":51.1},{"g":"B7","o":29,"lon":210.0,"lat":47.3},{"g":"B7","o":30,"lon":218.7,"lat":46.9},{"g":"B7","o":31,"lon":220.2,"lat":41.5},{"g":"B7","o":32,"lon":218.7,"lat":38.6},{"g":"B7","o":33,"lon":215.8,"lat":35.7},{"g":"B7","o":34,"lon":212.9,"lat":36.6},{"g":"B7","o":35,"lon":210.0,"lat":38.6},{"g":"B7","o":36,"lon":208.0,"lat":35.7},{"g":"B7","o":37,"lon":205.1,"lat":33.7},{"g":"B7","o":38,"lon":201.3,"lat":36.6},{"g":"B7","o":39,"lon":197.4,"lat":39.5},{"g":"B7","o":40,"lon":193.5,"lat":41.1},{"g":"B7","o":41,"lon":189.6,"lat":41.5},{"g":"B7","o":42,"lon":184.8,"lat":41.8},{"g":"B7","o":43,"lon":181.9,"lat":39.5},{"g":"B7","o":44,"lon":180.9,"lat":34.7},{"g":"B7","o":45,"lon":180.9,"lat":30.8},{"g":"B7","o":46,"lon":184.8,"lat":27.0},{"g":"B7","o":47,"lon":190.6,"lat":25.0},{"g":"B7","o":48,"lon":191.6,"lat":19.2},{"g":"B7","o":49,"lon":190.6,"lat":10.5},{"g":"B7","o":50,"lon":189.8,"lat":5.1},{"g":"B7","o":51,"lon":186.3,"lat":-0.8},{"g":"B7","o":52,"lon":184.8,"lat":-9.5},{"g":"B7","o":53,"lon":184.8,"lat":-17.2},{"g":"B7","o":54,"lon":187.7,"lat":-23.0},{"g":"B7","o":55,"lon":195.4,"lat":-26.5},{"g":"B7","o":56,"lon":197.4,"lat":-28.8},{"g":"B7","o":57,"lon":198.4,"lat":-33.7},{"g":"B7","o":58,"lon":199.3,"lat":-41.4},{"g":"B7","o":59,"lon":202.2,"lat":-43.3},{"g":"B7","o":60,"lon":207.1,"lat":-41.4},{"g":"B7","o":61,"lon":210.9,"lat":-44.3},{"g":"B7","o":62,"lon":215.8,"lat":-50.1},{"g":"B7","o":63,"lon":218.7,"lat":-52.1},{"g":"B7","o":64,"lon":222.5,"lat":-50.1},{"g":"B7","o":65,"lon":230.3,"lat":-49.2},{"g":"B7","o":66,"lon":238.0,"lat":-48.2},{"g":"B7","o":67,"lon":241.9,"lat":-44.3},{"g":"B7","o":68,"lon":247.7,"lat":-40.4},{"g":"B7","o":69,"lon":255.5,"lat":-39.5},{"g":"B7","o":70,"lon":261.3,"lat":-38.5},{"g":"B7","o":71,"lon":267.1,"lat":-39.1},{"g":"B7","o":72,"lon":273.9,"lat":-37.5},{"g":"B7","o":73,"lon":281.6,"lat":-35.6},{"g":"B7","o":74,"lon":288.4,"lat":-33.7},{"g":"B7","o":75,"lon":292.2,"lat":-33.7},{"g":"B7","o":76,"lon":295.1,"lat":-34.6},{"g":"B7","o":77,"lon":300.0,"lat":-36.6},{"g":"B7","o":78,"lon":304.9,"lat":-38.5},{"g":"B7","o":79,"lon":306.8,"lat":-44.3},{"g":"B7","o":80,"lon":304.9,"lat":-47.2},{"g":"B7","o":81,"lon":300.0,"lat":-49.2},{"g":"B7","o":82,"lon":296.1,"lat":-46.2},{"g":"B7","o":83,"lon":294.2,"lat":-40.4},{"g":"B7","o":84,"lon":294.6,"lat":-35.6},{"g":"B7","o":85,"lon":296.1,"lat":-29.8},{"g":"B7","o":86,"lon":297.1,"lat":-25.9},{"g":"B7","o":87,"lon":298.1,"lat":-20.1},{"g":"B7","o":88,"lon":298.1,"lat":-14.3},{"g":"B7","o":89,"lon":296.1,"lat":-10.5},{"g":"B7","o":90,"lon":293.8,"lat":-8.5},{"g":"B7","o":91,"lon":297.1,"lat":-6.6},{"g":"B7","o":92,"lon":301.9,"lat":-4.6},{"g":"B7","o":93,"lon":306.8,"lat":-2.7},{"g":"B7","o":94,"lon":309.3,"lat":-1.7},{"g":"B7","o":95,"lon":309.3,"lat":-9.5},{"g":"B7","o":96,"lon":309.7,"lat":-19.5},{"g":"B7","o":97,"lon":314.6,"lat":-19.5},{"g":"B7","o":98,"lon":319.4,"lat":-19.2},{"g":"B7","o":99,"lon":323.3,"lat":-17.2},{"g":"B7","o":100,"lon":328.1,"lat":-14.3},{"g":"B7","o":101,"lon":332.0,"lat":-10.5},{"g":"B7","o":102,"lon":333.9,"lat":-5.6},{"g":"B7","o":103,"lon":336.8,"lat":-2.7},{"g":"B7","o":104,"lon":339.7,"lat":-1.7},{"g":"B7","o":105,"lon":342.6,"lat":-3.7},{"g":"B7","o":106,"lon":345.5,"lat":-8.5},{"g":"B7","o":107,"lon":346.5,"lat":-13.4},{"g":"B7","o":108,"lon":342.6,"lat":-18.2},{"g":"B7","o":109,"lon":338.7,"lat":-20.1},{"g":"B7","o":110,"lon":336.8,"lat":-25.9},{"g":"B7","o":111,"lon":338.7,"lat":-29.8},{"g":"B7","o":112,"lon":342.6,"lat":-32.7},{"g":"B7","o":113,"lon":347.4,"lat":-28.8},{"g":"B7","o":114,"lon":350.3,"lat":-27.9},{"g":"B7","o":115,"lon":354.2,"lat":-33.7},{"g":"B7","o":116,"lon":356.2,"lat":-39.5},{"g":"B7","o":117,"lon":357.1,"lat":-43.3},{"g":"B7","o":118,"lon":359.6,"lat":-45.7},{"g":"B7","o":119,"lon":363.9,"lat":-43.3},{"g":"B7","o":120,"lon":368.8,"lat":-39.5},{"g":"B7","o":121,"lon":372.1,"lat":-34.6},
{"g":"B22","o":0,"lon":381.0,"lat":25.4},{"g":"B22","o":1,"lon":386.2,"lat":16.7},{"g":"B22","o":2,"lon":389.1,"lat":10.9},
{"g":"B22b","o":0,"lon":386.2,"lat":40.3},{"g":"B22b","o":1,"lon":390.1,"lat":40.9},
{"g":"B23","o":0,"lon":369.8,"lat":25.4},{"g":"B23","o":1,"lon":367.8,"lat":22.5},{"g":"B23","o":2,"lon":366.8,"lat":18.6},{"g":"B23","o":3,"lon":366.8,"lat":8.9},{"g":"B23","o":4,"lon":366.4,"lat":1.2},{"g":"B23","o":5,"lon":367.8,"lat":-8.5},{"g":"B23","o":6,"lon":368.8,"lat":-16.3},{"g":"B23","o":7,"lon":369.8,"lat":-21.1},{"g":"B23","o":8,"lon":374.6,"lat":-17.2},{"g":"B23","o":9,"lon":379.4,"lat":-14.3},{"g":"B23","o":10,"lon":383.3,"lat":-10.5},{"g":"B23","o":11,"lon":384.3,"lat":-4.6},{"g":"B23","o":12,"lon":381.4,"lat":1.2},{"g":"B23","o":13,"lon":378.5,"lat":4.1},{"g":"B23","o":14,"lon":375.6,"lat":5.5},{"g":"B23","o":15,"lon":372.6,"lat":3.1},{"g":"B23","o":16,"lon":372.6,"lat":-0.8},
{"g":"B24","o":0,"lon":378.5,"lat":-31.7},{"g":"B24","o":1,"lon":379.4,"lat":-39.5},{"g":"B24","o":2,"lon":382.3,"lat":-43.3},{"g":"B24","o":3,"lon":387.2,"lat":-48.2},{"g":"B24","o":4,"lon":389.7,"lat":-51.1}
],
"blackClosed": [
{"g":"B2","o":0,"lon":30.8,"lat":26.0},{"g":"B2","o":1,"lon":36.6,"lat":27.0},{"g":"B2","o":2,"lon":41.5,"lat":26.0},{"g":"B2","o":3,"lon":43.4,"lat":21.1},{"g":"B2","o":4,"lon":42.4,"lat":16.3},{"g":"B2","o":5,"lon":37.6,"lat":14.4},{"g":"B2","o":6,"lon":32.8,"lat":14.8},{"g":"B2","o":7,"lon":28.9,"lat":17.3},{"g":"B2","o":8,"lon":27.9,"lat":21.7},
{"g":"B3","o":0,"lon":11.4,"lat":35.1},{"g":"B3","o":1,"lon":15.3,"lat":39.5},{"g":"B3","o":2,"lon":20.2,"lat":39.5},{"g":"B3","o":3,"lon":22.7,"lat":35.1},{"g":"B3","o":4,"lon":21.5,"lat":29.9},{"g":"B3","o":5,"lon":17.3,"lat":29.3},{"g":"B3","o":6,"lon":13.4,"lat":30.6},
{"g":"K4","o":0,"lon":106.3,"lat":37.6},{"g":"K4","o":1,"lon":110.2,"lat":43.4},{"g":"K4","o":2,"lon":116.0,"lat":46.3},{"g":"K4","o":3,"lon":117.0,"lat":41.5},{"g":"K4","o":4,"lon":117.6,"lat":26.0},{"g":"K4","o":5,"lon":115.6,"lat":20.2},{"g":"K4","o":6,"lon":110.2,"lat":15.3},{"g":"K4","o":7,"lon":105.4,"lat":20.2},{"g":"K4","o":8,"lon":106.3,"lat":29.9},{"g":"K4","o":9,"lon":107.3,"lat":35.7},
{"g":"B6","o":0,"lon":145.1,"lat":54.6},{"g":"B6","o":1,"lon":149.0,"lat":53.1},{"g":"B6","o":2,"lon":151.3,"lat":49.2},{"g":"B6","o":3,"lon":150.9,"lat":43.4},{"g":"B6","o":4,"lon":147.0,"lat":40.5},{"g":"B6","o":5,"lon":144.1,"lat":40.5},{"g":"B6","o":6,"lon":142.2,"lat":45.3},{"g":"B6","o":7,"lon":142.8,"lat":51.1},
{"g":"B8","o":0,"lon":210.9,"lat":18.2},{"g":"B8","o":1,"lon":214.8,"lat":16.3},{"g":"B8","o":2,"lon":216.4,"lat":10.5},{"g":"B8","o":3,"lon":216.4,"lat":0.4},{"g":"B8","o":4,"lon":215.8,"lat":-1.7},{"g":"B8","o":5,"lon":213.8,"lat":-0.8},{"g":"B8","o":6,"lon":211.9,"lat":1.2},{"g":"B8","o":7,"lon":208.0,"lat":6.6},{"g":"B8","o":8,"lon":206.1,"lat":12.4},{"g":"B8","o":9,"lon":207.4,"lat":16.3},
{"g":"B9","o":0,"lon":235.1,"lat":44.0},{"g":"B9","o":1,"lon":237.0,"lat":38.6},{"g":"B9","o":2,"lon":237.0,"lat":29.9},{"g":"B9","o":3,"lon":234.1,"lat":24.1},{"g":"B9","o":4,"lon":232.2,"lat":19.2},{"g":"B9","o":5,"lon":228.3,"lat":17.3},{"g":"B9","o":6,"lon":222.5,"lat":19.2},{"g":"B9","o":7,"lon":219.0,"lat":24.1},{"g":"B9","o":8,"lon":218.7,"lat":27.9},{"g":"B9","o":9,"lon":221.6,"lat":33.7},{"g":"B9","o":10,"lon":225.4,"lat":38.6},{"g":"B9","o":11,"lon":230.3,"lat":42.4},
{"g":"B10","o":0,"lon":251.6,"lat":20.2},{"g":"B10","o":1,"lon":254.5,"lat":21.1},{"g":"B10","o":2,"lon":259.4,"lat":24.1},{"g":"B10","o":3,"lon":264.2,"lat":24.8},{"g":"B10","o":4,"lon":267.1,"lat":24.4},{"g":"B10","o":5,"lon":271.0,"lat":21.7},{"g":"B10","o":6,"lon":275.8,"lat":17.3},{"g":"B10","o":7,"lon":280.6,"lat":12.4},{"g":"B10","o":8,"lon":284.5,"lat":6.6},{"g":"B10","o":9,"lon":285.5,"lat":0.4},{"g":"B10","o":10,"lon":285.5,"lat":-5.6},{"g":"B10","o":11,"lon":283.5,"lat":-6.6},{"g":"B10","o":12,"lon":281.6,"lat":-4.1},{"g":"B10","o":13,"lon":276.8,"lat":-4.1},{"g":"B10","o":14,"lon":273.9,"lat":-5.6},{"g":"B10","o":15,"lon":271.0,"lat":-12.4},{"g":"B10","o":16,"lon":267.1,"lat":-16.3},{"g":"B10","o":17,"lon":261.3,"lat":-17.2},{"g":"B10","o":18,"lon":257.4,"lat":-19.2},{"g":"B10","o":19,"lon":251.6,"lat":-20.1},{"g":"B10","o":20,"lon":247.7,"lat":-23.0},{"g":"B10","o":21,"lon":241.9,"lat":-27.9},{"g":"B10","o":22,"lon":240.0,"lat":-31.7},{"g":"B10","o":23,"lon":236.1,"lat":-27.9},{"g":"B10","o":24,"lon":234.1,"lat":-26.9},{"g":"B10","o":25,"lon":232.2,"lat":-29.8},{"g":"B10","o":26,"lon":229.3,"lat":-35.6},{"g":"B10","o":27,"lon":225.4,"lat":-30.8},{"g":"B10","o":28,"lon":222.5,"lat":-31.7},{"g":"B10","o":29,"lon":218.7,"lat":-32.7},{"g":"B10","o":30,"lon":216.7,"lat":-35.6},{"g":"B10","o":31,"lon":214.8,"lat":-38.5},{"g":"B10","o":32,"lon":213.8,"lat":-30.8},{"g":"B10","o":33,"lon":208.0,"lat":-25.0},{"g":"B10","o":34,"lon":209.0,"lat":-15.3},{"g":"B10","o":35,"lon":207.1,"lat":-9.5},{"g":"B10","o":36,"lon":210.1,"lat":-7.1},{"g":"B10","o":37,"lon":217.7,"lat":-7.7},{"g":"B10","o":38,"lon":226.4,"lat":-6.6},{"g":"B10","o":39,"lon":233.4,"lat":-3.7},{"g":"B10","o":40,"lon":240.0,"lat":0.4},{"g":"B10","o":41,"lon":244.8,"lat":1.7},{"g":"B10","o":42,"lon":248.7,"lat":5.6},{"g":"B10","o":43,"lon":251.6,"lat":10.5},{"g":"B10","o":44,"lon":252.6,"lat":16.3},
{"g":"B12","o":0,"lon":264.2,"lat":36.0},{"g":"B12","o":1,"lon":265.5,"lat":35.7},{"g":"B12","o":2,"lon":266.1,"lat":30.8},{"g":"B12","o":3,"lon":264.8,"lat":28.9},{"g":"B12","o":4,"lon":264.2,"lat":31.8},
{"g":"B13","o":0,"lon":300.0,"lat":41.5},{"g":"B13","o":1,"lon":301.5,"lat":36.6},{"g":"B13","o":2,"lon":301.5,"lat":30.8},{"g":"B13","o":3,"lon":300.0,"lat":26.0},{"g":"B13","o":4,"lon":298.5,"lat":30.8},{"g":"B13","o":5,"lon":298.1,"lat":36.6},
{"g":"B14","o":0,"lon":324.2,"lat":38.6},{"g":"B14","o":1,"lon":327.1,"lat":37.2},{"g":"B14","o":2,"lon":329.4,"lat":34.7},{"g":"B14","o":3,"lon":329.1,"lat":29.9},{"g":"B14","o":4,"lon":326.8,"lat":26.0},{"g":"B14","o":5,"lon":324.8,"lat":22.5},{"g":"B14","o":6,"lon":323.3,"lat":26.0},{"g":"B14","o":7,"lon":322.3,"lat":32.8},{"g":"B14","o":8,"lon":322.9,"lat":36.6},
{"g":"B15","o":0,"lon":309.3,"lat":19.2},{"g":"B15","o":1,"lon":312.6,"lat":15.3},{"g":"B15","o":2,"lon":313.6,"lat":9.5},{"g":"B15","o":3,"lon":315.5,"lat":5.6},{"g":"B15","o":4,"lon":315.1,"lat":2.3},{"g":"B15","o":5,"lon":312.0,"lat":3.1},{"g":"B15","o":6,"lon":308.7,"lat":7.6},{"g":"B15","o":7,"lon":304.3,"lat":10.5},{"g":"B15","o":8,"lon":304.3,"lat":15.3},{"g":"B15","o":9,"lon":306.8,"lat":17.8},
{"g":"B18","o":0,"lon":150.9,"lat":-29.2},{"g":"B18","o":1,"lon":153.8,"lat":-31.7},{"g":"B18","o":2,"lon":154.8,"lat":-36.6},{"g":"B18","o":3,"lon":152.8,"lat":-40.4},{"g":"B18","o":4,"lon":149.9,"lat":-44.3},{"g":"B18","o":5,"lon":148.6,"lat":-39.5},{"g":"B18","o":6,"lon":148.0,"lat":-33.7},{"g":"B18","o":7,"lon":149.0,"lat":-30.8},
{"g":"B19","o":0,"lon":181.7,"lat":-42.6},{"g":"B19","o":1,"lon":185.7,"lat":-41.4},{"g":"B19","o":2,"lon":187.7,"lat":-44.3},{"g":"B19","o":3,"lon":187.5,"lat":-49.0},{"g":"B19","o":4,"lon":184.6,"lat":-51.9},{"g":"B19","o":5,"lon":181.1,"lat":-51.5},{"g":"B19","o":6,"lon":179.9,"lat":-48.4},{"g":"B19","o":7,"lon":179.4,"lat":-44.9},
{"g":"B20","o":0,"lon":89.3,"lat":-42.6},{"g":"B20","o":1,"lon":91.0,"lat":-43.1},{"g":"B20","o":2,"lon":91.3,"lat":-45.5},{"g":"B20","o":3,"lon":90.4,"lat":-47.8},{"g":"B20","o":4,"lon":90.1,"lat":-44.9},
{"g":"B21","o":0,"lon":124.7,"lat":26.0},{"g":"B21","o":1,"lon":128.6,"lat":24.1},{"g":"B21","o":2,"lon":133.5,"lat":21.1},{"g":"B21","o":3,"lon":134.4,"lat":20.2},{"g":"B21","o":4,"lon":131.5,"lat":14.4},{"g":"B21","o":5,"lon":129.6,"lat":8.1},{"g":"B21","o":6,"lon":126.7,"lat":14.4},{"g":"B21","o":7,"lon":123.8,"lat":18.2},{"g":"B21","o":8,"lon":122.8,"lat":22.5},
{"g":"Bd","o":0,"lon":364.1,"lat":35.4},{"g":"Bd","o":1,"lon":364.9,"lat":36.3},{"g":"Bd","o":2,"lon":365.7,"lat":35.4},{"g":"Bd","o":3,"lon":364.9,"lat":34.5}
],
"titles": [
{"t":"WSO - Photospheric Magnetic Field","lon":-26.9,"lat":99.5},
{"t":"0, ±100, 200, 500, 1000, 2000 MicroTesla","lon":175.2,"lat":99.5}
],
"days": [
{"t":"22","lon":-22.83,"lat":86.8},{"t":"21","lon":-9.69,"lat":86.8},{"t":"20","lon":3.45,"lat":86.8},{"t":"19","lon":16.59,"lat":86.8},{"t":"18","lon":29.73,"lat":86.8},{"t":"17","lon":42.87,"lat":86.8},{"t":"16","lon":56.01,"lat":86.8},{"t":"15","lon":69.15,"lat":86.8},{"t":"14","lon":82.29,"lat":86.8},{"t":"13","lon":95.43,"lat":86.8},{"t":"12","lon":108.57,"lat":86.8},{"t":"11","lon":121.71,"lat":86.8},{"t":"10","lon":134.85,"lat":86.8},{"t":"9","lon":147.99,"lat":86.8},{"t":"8","lon":161.13,"lat":86.8},{"t":"7","lon":174.27,"lat":86.8},{"t":"6","lon":187.41,"lat":86.8},{"t":"5","lon":200.55,"lat":86.8},{"t":"4","lon":213.69,"lat":86.8},{"t":"3","lon":226.83,"lat":86.8},{"t":"2","lon":239.97,"lat":86.8},{"t":"1","lon":253.11,"lat":86.8},{"t":"30","lon":266.25,"lat":86.8},{"t":"29","lon":279.39,"lat":86.8},{"t":"28","lon":292.53,"lat":86.8},{"t":"27","lon":305.67,"lat":86.8},{"t":"26","lon":318.81,"lat":86.8},{"t":"25","lon":331.95,"lat":86.8},{"t":"24","lon":345.09,"lat":86.8},{"t":"23","lon":358.23,"lat":86.8},{"t":"22","lon":371.37,"lat":86.8}
],
"lonLabels": [
{"t":"0","lon":0,"lat":-80.5},{"t":"30","lon":30,"lat":-80.5},{"t":"60","lon":60,"lat":-80.5},{"t":"90","lon":90,"lat":-80.5},{"t":"120","lon":120,"lat":-80.5},{"t":"150","lon":150,"lat":-80.5},{"t":"180","lon":180,"lat":-80.5},{"t":"210","lon":210,"lat":-80.5},{"t":"240","lon":240,"lat":-80.5},{"t":"270","lon":270,"lat":-80.5},{"t":"300","lon":300,"lat":-80.5},{"t":"330","lon":330,"lat":-80.5},{"t":"360","lon":360,"lat":-80.5}
],
"latL": [
{"t":"60N","lon":-25.0,"lat":60},{"t":"30N","lon":-25.0,"lat":30},{"t":"30S","lon":-25.0,"lat":-30},{"t":"60S","lon":-25.0,"lat":-60}
],
"latR": [
{"t":"60N","lon":385.7,"lat":60},{"t":"30N","lon":385.7,"lat":30},{"t":"30S","lon":385.7,"lat":-30},{"t":"60S","lon":385.7,"lat":-60}
],
"vmarks": [
{"t":"v","lon":49.8,"lat":71.0},{"t":"v","lon":155.2,"lat":71.0},{"t":"v","lon":168.0,"lat":71.0},{"t":"v","lon":235.6,"lat":71.0},{"t":"v","lon":261.4,"lat":71.0},{"t":"v","lon":275.3,"lat":71.0},{"t":"v","lon":288.9,"lat":71.0},{"t":"v","lon":300.9,"lat":71.0},{"t":"v","lon":315.0,"lat":71.0},{"t":"v","lon":327.6,"lat":71.0},{"t":"v","lon":340.0,"lat":71.0},{"t":"v","lon":353.0,"lat":71.0},{"t":"v","lon":367.5,"lat":71.0}
],
"dec": [{"t":"DEC 1995","lon":75.4,"lat":78.2}],
"rot": [{"t":"1903","lon":180,"lat":-97.2}],
"gmark": [{"t":">","lon":-31.2,"lat":0}]
},
"layer": [
{"data":{"name":"green"},"mark":{"type":"rule","color":"#00ff00","strokeWidth":1.2},"encoding":{"x2":{"field":"lon2"},"y2":{"field":"lat2"}}},
{"data":{"name":"ticks"},"mark":{"type":"rule","color":"black","strokeWidth":1.5},"encoding":{"x2":{"field":"lon2"},"y2":{"field":"lat2"}}},
{"data":{"name":"grayFill"},"mark":{"type":"line","interpolate":"linear-closed","color":"#a0a0a0","fill":"#a0a0a0","strokeWidth":1},"encoding":{"detail":{"field":"g"},"order":{"field":"o","type":"quantitative"}}},
{"data":{"name":"blueFilled"},"mark":{"type":"line","interpolate":"linear-closed","color":"#0000ff","fill":"#e4e4e4","strokeWidth":1},"encoding":{"detail":{"field":"g"},"order":{"field":"o","type":"quantitative"}}},
{"data":{"name":"blueOpen"},"mark":{"type":"line","color":"#0000ff","strokeWidth":1},"encoding":{"detail":{"field":"g"},"order":{"field":"o","type":"quantitative"}}},
{"data":{"name":"blueClosed"},"mark":{"type":"line","interpolate":"linear-closed","color":"#0000ff","strokeWidth":1},"encoding":{"detail":{"field":"g"},"order":{"field":"o","type":"quantitative"}}},
{"data":{"name":"redOpen"},"mark":{"type":"line","color":"#ff0000","strokeWidth":1.3,"strokeDash":[2,3]},"encoding":{"detail":{"field":"g"},"order":{"field":"o","type":"quantitative"}}},
{"data":{"name":"redClosed"},"mark":{"type":"line","interpolate":"linear-closed","color":"#ff0000","strokeWidth":1.3,"strokeDash":[2,3]},"encoding":{"detail":{"field":"g"},"order":{"field":"o","type":"quantitative"}}},
{"data":{"name":"blackOpen"},"mark":{"type":"line","color":"black","strokeWidth":1.4},"encoding":{"detail":{"field":"g"},"order":{"field":"o","type":"quantitative"}}},
{"data":{"name":"blackClosed"},"mark":{"type":"line","interpolate":"linear-closed","color":"black","strokeWidth":1.4},"encoding":{"detail":{"field":"g"},"order":{"field":"o","type":"quantitative"}}},
{"data":{"name":"titles"},"mark":{"type":"text","align":"left","baseline":"middle","font":"Liberation Mono","fontSize":14,"color":"black"},"encoding":{"text":{"field":"t"}}},
{"data":{"name":"days"},"mark":{"type":"text","align":"center","baseline":"middle","font":"Liberation Mono","fontSize":12,"color":"black"},"encoding":{"text":{"field":"t"}}},
{"data":{"name":"lonLabels"},"mark":{"type":"text","align":"center","baseline":"middle","font":"Liberation Mono","fontSize":13,"color":"black"},"encoding":{"text":{"field":"t"}}},
{"data":{"name":"latL"},"mark":{"type":"text","align":"left","baseline":"middle","font":"Liberation Mono","fontSize":13.5,"color":"black"},"encoding":{"text":{"field":"t"}}},
{"data":{"name":"latR"},"mark":{"type":"text","align":"right","baseline":"middle","font":"Liberation Mono","fontSize":13.5,"color":"black"},"encoding":{"text":{"field":"t"}}},
{"data":{"name":"vmarks"},"mark":{"type":"text","align":"center","baseline":"alphabetic","font":"Liberation Mono","fontSize":11,"color":"black"},"encoding":{"text":{"field":"t"}}},
{"data":{"name":"dec"},"mark":{"type":"text","align":"center","baseline":"middle","font":"Liberation Mono","fontSize":13,"color":"black"},"encoding":{"text":{"field":"t"}}},
{"data":{"name":"rot"},"mark":{"type":"text","align":"center","baseline":"middle","font":"Liberation Mono","fontSize":18,"color":"black"},"encoding":{"text":{"field":"t"}}},
{"data":{"name":"gmark"},"mark":{"type":"text","align":"center","baseline":"middle","font":"Liberation Mono","fontSize":10,"color":"#00ff00"},"encoding":{"text":{"field":"t"}}}
]
}
